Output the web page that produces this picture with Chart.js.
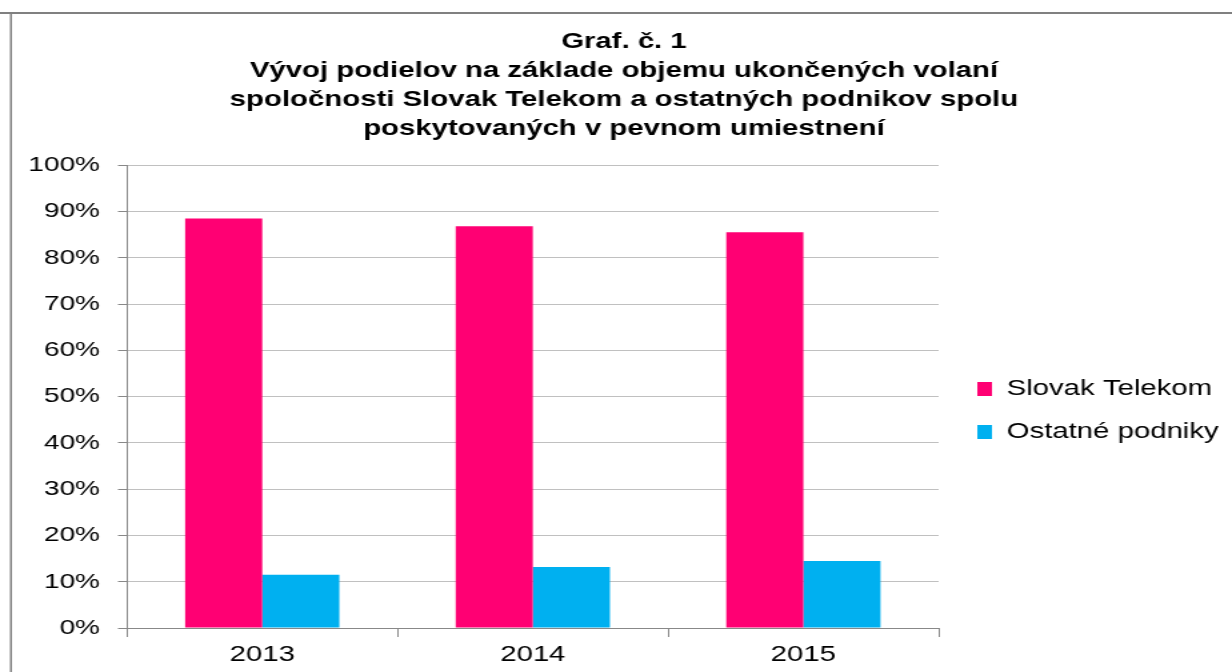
<!DOCTYPE html>
<html>
<head>
<meta charset="utf-8">
<script src="https://cdn.jsdelivr.net/npm/chart.js@4"></script>
<style>
  body { margin: 0; background: #fff; overflow: hidden; }
  #wrap { width: 1232px; height: 672px; position: relative; }
  /* povodny graf je vodorovne roztiahnuty */
  #graf1 { transform: scaleX(1.33333); transform-origin: 0 0; }
</style>
</head>
<body>
<div id="wrap"><canvas id="graf1" width="924" height="672"></canvas></div>
<script>
// roky a podiely (%) odčítané z grafu
var roky = ['2013', '2014', '2015'];
var slovakTelekom = [88.5, 86.8, 85.5];
var ostatnePodniky = [11.5, 13.2, 14.5];
var nazvySerii = ['Slovak Telekom', 'Ostatné podniky'];
var titulok = [
    'Graf. č. 1',
    'Vývoj podielov na základe objemu ukončených volaní',
    'spoločnosti Slovak Telekom a ostatných podnikov spolu',
    'poskytovaných v pevnom umiestnení'
];

// ram okolo grafu (vlavo a hore)
var ramPlugin = {
    id: 'ram',
    beforeDraw: function(chart) {
        var ctx = chart.ctx;
        ctx.save();
        ctx.strokeStyle = '#808080';
        ctx.lineWidth = 2;
        ctx.beginPath();
        ctx.moveTo(0, 13);
        ctx.lineTo(924, 13);
        ctx.stroke();
        ctx.lineWidth = 1.5;
        ctx.beginPath();
        ctx.moveTo(8.25, 12);
        ctx.lineTo(8.25, 672);
        ctx.stroke();
        ctx.restore();
    }
};

// legendu posunieme o kus doprava, aby bola vacsia medzera od grafu
var posunLegendy = {
    id: 'posunLegendy',
    afterLayout: function(chart) {
        chart.legend.left += 8;
        chart.legend.right += 8;
    }
};

var font = "'Liberation Sans', Arial, sans-serif";

new Chart(document.getElementById('graf1').getContext('2d'), {
    type: 'bar',
    data: {
        labels: roky,
        datasets: [{
            label: nazvySerii[0],
            data: slovakTelekom,
            backgroundColor: '#FF0073',
            categoryPercentage: 0.57,
            barPercentage: 1
        }, {
            label: nazvySerii[1],
            data: ostatnePodniky,
            backgroundColor: '#00B0F0',
            categoryPercentage: 0.57,
            barPercentage: 1
        }]
    },
    options: {
        responsive: false,
        animation: false,
        layout: { padding: { left: 20, right: 8, top: 0, bottom: 0 } },
        scales: {
            x: {
                grid: { offset: true, drawOnChartArea: false, drawTicks: true, tickLength: 9, color: '#888' },
                border: { color: '#888' },
                ticks: { color: '#000', padding: 5, font: { family: font, size: 22 } },
                afterFit: function(s) { s.height = 44; }
            },
            y: {
                min: 0,
                max: 100,
                ticks: {
                    stepSize: 10,
                    color: '#000',
                    padding: 13.5,
                    font: { family: font, size: 21 },
                    callback: function(v) { return v + '%'; }
                },
                grid: { color: '#c0c0c0', tickLength: 6.75, tickColor: '#888' },
                border: { color: '#888' },
                afterFit: function(s) { s.width = 75.25; }
            }
        },
        plugins: {
            title: {
                display: true,
                text: titulok,
                color: '#000',
                font: { family: font, size: 22, weight: 'bold', lineHeight: 1.32 },
                padding: { top: 27, bottom: 22 }
            },
            legend: {
                position: 'right',
                fullSize: false,
                title: { display: true, text: ' ', font: { size: 2, lineHeight: 1 }, padding: 13 },
                labels: {
                    color: '#000',
                    boxWidth: 11,
                    boxHeight: 14,
                    padding: 21,
                    font: { family: font, size: 22 }
                }
            },
            tooltip: { enabled: false }
        }
    },
    plugins: [ramPlugin, posunLegendy]
});
</script>
</body>
</html>
